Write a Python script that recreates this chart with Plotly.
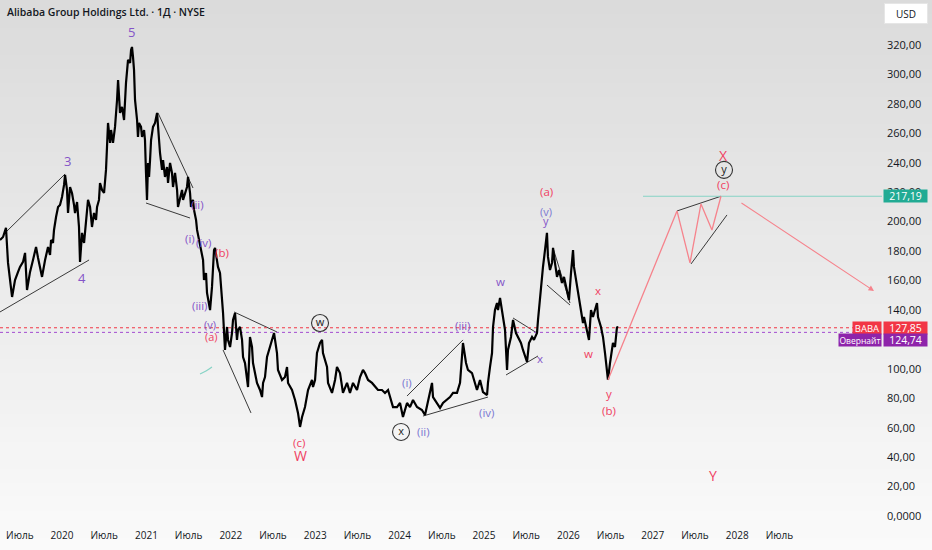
import plotly.graph_objects as go

# BABA daily chart with Elliott wave markup
# time in decimal years, price in USD

t = [
    2019.265, 2019.301, 2019.336, 2019.360, 2019.408, 2019.443, 2019.479, 2019.502, 2019.538, 2019.562,
    2019.585, 2019.621, 2019.656, 2019.692, 2019.716, 2019.739, 2019.763, 2019.799, 2019.834, 2019.858,
    2019.870, 2019.893, 2019.905, 2019.929, 2019.953, 2019.976,
    2020.000, 2020.024, 2020.036, 2020.059, 2020.071, 2020.095, 2020.118, 2020.142, 2020.154, 2020.178,
    2020.201, 2020.213, 2020.225, 2020.237, 2020.261, 2020.284, 2020.308, 2020.332, 2020.355, 2020.379,
    2020.403, 2020.415, 2020.438, 2020.450, 2020.474, 2020.498, 2020.521, 2020.533, 2020.545, 2020.569,
    2020.581, 2020.604, 2020.628, 2020.652, 2020.664, 2020.687, 2020.711, 2020.735, 2020.758, 2020.782,
    2020.806, 2020.818, 2020.829, 2020.841, 2020.853, 2020.865, 2020.889, 2020.900, 2020.912, 2020.936,
    2020.948, 2020.972, 2020.983, 2020.995,
    2021.007, 2021.019, 2021.031, 2021.043, 2021.055, 2021.078, 2021.102, 2021.126, 2021.137, 2021.161,
    2021.185, 2021.197, 2021.220, 2021.244, 2021.256, 2021.280, 2021.303, 2021.315, 2021.339, 2021.363,
    2021.374, 2021.398, 2021.422, 2021.434, 2021.457, 2021.481, 2021.493, 2021.517, 2021.528, 2021.552,
    2021.564, 2021.588, 2021.600, 2021.623, 2021.647, 2021.671, 2021.682, 2021.706, 2021.718, 2021.742,
    2021.754, 2021.777, 2021.789, 2021.801, 2021.813, 2021.836, 2021.848, 2021.872, 2021.896, 2021.908,
    2021.931, 2021.955, 2021.967, 2021.991,
    2022.014, 2022.026, 2022.050, 2022.073, 2022.085, 2022.109, 2022.133, 2022.145, 2022.168, 2022.192,
    2022.204, 2022.227, 2022.251, 2022.263, 2022.310, 2022.346, 2022.370, 2022.382, 2022.405, 2022.429,
    2022.464, 2022.488, 2022.512, 2022.524, 2022.547, 2022.559, 2022.607, 2022.642, 2022.666, 2022.678,
    2022.725, 2022.761, 2022.796, 2022.820, 2022.844, 2022.879, 2022.915, 2022.962, 2022.974, 2022.998,
    2023.021, 2023.057, 2023.081, 2023.092, 2023.140, 2023.152, 2023.199, 2023.235, 2023.258, 2023.294,
    2023.329, 2023.377, 2023.412, 2023.448, 2023.495, 2023.531, 2023.566, 2023.590, 2023.626, 2023.673,
    2023.709, 2023.744, 2023.791, 2023.827, 2023.863, 2023.886, 2023.922, 2023.969,
    2024.005, 2024.040, 2024.088, 2024.123, 2024.159, 2024.206, 2024.265, 2024.301, 2024.336, 2024.384,
    2024.396, 2024.443, 2024.479, 2024.514, 2024.562, 2024.597, 2024.633, 2024.680, 2024.716, 2024.739,
    2024.751, 2024.787, 2024.810, 2024.858, 2024.893, 2024.917, 2024.953, 2024.988,
    2025.036, 2025.047, 2025.071, 2025.095, 2025.107, 2025.130, 2025.154, 2025.166, 2025.190, 2025.213,
    2025.225, 2025.249, 2025.273, 2025.284, 2025.320, 2025.344, 2025.379, 2025.403, 2025.438, 2025.462,
    2025.498, 2025.510, 2025.533, 2025.569, 2025.592, 2025.628, 2025.640, 2025.664, 2025.687, 2025.699,
    2025.723, 2025.746, 2025.758, 2025.782, 2025.806, 2025.818, 2025.841, 2025.865, 2025.889, 2025.924,
    2025.948, 2025.983,
    2026.007, 2026.031, 2026.055, 2026.066, 2026.102, 2026.114, 2026.149, 2026.173, 2026.185, 2026.220,
    2026.244, 2026.268, 2026.291, 2026.339, 2026.351, 2026.386, 2026.410, 2026.434, 2026.457, 2026.469,
    2026.493, 2026.517, 2026.528, 2026.552, 2026.576, 2026.588,
]

price = [
    187.5, 189.5, 195.7, 171.9, 148.8, 160.3, 165.8, 169.2, 172.6, 178.7,
    153.5, 165.8, 173.9, 182.7, 175.3, 169.2, 162.4, 173.9, 182.7, 177.3,
    187.5, 185.5, 194.3, 203.1, 209.9, 211.3,
    216.7, 224.9, 231.7, 221.5, 205.8, 223.5, 219.4, 211.3, 205.8, 213.3,
    196.3, 172.6, 184.1, 192.3, 185.5, 203.1, 214.7, 209.9, 196.3, 205.8,
    201.1, 209.9, 214.7, 226.2, 221.5, 219.4, 235.1, 250.7, 267.0, 253.4,
    262.2, 253.4, 264.3, 282.6, 296.2, 273.8, 277.9, 269.0, 294.2, 309.8,
    307.7, 316.6, 318.6, 311.8, 303.0, 282.6, 269.0, 257.5, 267.0, 264.3,
    257.5, 262.2, 255.4, 233.0,
    214.7, 239.8, 230.3, 241.8, 255.4, 264.3, 267.0, 273.8, 264.3, 246.6,
    235.1, 241.8, 230.3, 237.1, 226.2, 239.8, 233.0, 223.5, 233.0, 221.5,
    209.9, 216.7, 221.5, 214.7, 219.4, 223.5, 230.3, 219.4, 209.9, 214.7,
    207.9, 201.1, 194.3, 187.5, 178.7, 173.9, 160.3, 165.1, 151.5, 144.7,
    139.9, 155.6, 169.2, 180.7, 182.1, 173.9, 169.2, 165.1, 148.1, 137.9,
    112.8, 128.4, 119.6, 114.8,
    124.3, 133.2, 137.9, 119.6, 126.4, 128.4, 119.6, 108.0, 103.9, 90.4,
    87.6, 121.6, 114.8, 103.9, 90.4, 85.6, 80.8, 90.4, 94.4, 108.0,
    114.8, 119.6, 124.3, 119.6, 110.7, 99.2, 92.4, 94.4, 101.2, 90.4,
    85.6, 78.8, 70.0, 60.5, 67.3, 74.0, 85.6, 92.4, 87.6, 92.4,
    110.7, 117.5, 119.6, 110.7, 101.2, 90.4, 83.6, 92.4, 101.2, 97.1,
    83.6, 90.4, 83.6, 90.4, 85.6, 94.4, 99.2, 97.1, 92.4, 90.4,
    87.6, 85.6, 85.6, 83.6, 85.6, 80.8, 74.0, 74.0,
    76.8, 67.3, 76.8, 74.0, 78.8, 74.0, 72.0, 68.6, 78.8, 90.4,
    80.8, 76.8, 73.4, 76.8, 78.8, 80.8, 83.6, 83.6, 90.4, 108.0,
    117.5, 103.9, 99.2, 97.1, 90.4, 85.6, 92.4, 84.2,
    82.2, 90.4, 101.2, 110.7, 128.4, 139.9, 144.7, 139.9, 148.1, 139.9,
    137.9, 126.4, 99.2, 112.8, 121.6, 133.2, 124.3, 121.6, 117.5, 112.8,
    106.0, 104.6, 117.5, 121.6, 119.6, 124.3, 133.2, 148.8, 158.3, 169.2,
    180.7, 192.3, 176.0, 167.1, 171.9, 182.1, 171.9, 162.4, 167.1, 158.3,
    162.4, 151.5,
    146.7, 165.1, 180.7, 169.2, 155.6, 151.5, 139.9, 131.1, 135.2, 126.4,
    119.6, 139.9, 135.2, 144.7, 135.2, 128.4, 121.6, 110.7, 99.2, 92.4,
    103.9, 112.8, 117.5, 114.8, 128.4, 127.85,
]

last_price = 127.85
overnight_price = 124.74
target_price = 217.19

# trend lines drawn on the chart: (t0, p0, t1, p1)
trend_lines = [
    (2019.336, 192.9, 2020.036, 232.3),
    (2019.265, 138.6, 2020.320, 173.9),
    (2021.137, 273.8, 2021.552, 222.8),
    (2020.995, 212.6, 2021.517, 202.4),
    (2022.038, 138.6, 2022.547, 125.0),
    (2021.908, 112.8, 2022.239, 70.0),
    (2024.088, 81.5, 2024.751, 119.6),
    (2024.277, 67.9, 2025.047, 80.8),
    (2025.344, 134.5, 2025.628, 124.3),
    (2025.261, 95.8, 2025.640, 108.7),
    (2025.818, 182.1, 2026.019, 144.7),
    (2025.746, 156.9, 2026.019, 143.3),
    (2027.287, 207.2, 2027.808, 217.2),
    (2027.453, 171.2, 2027.879, 204.5),
]

# projected path
proj_t = [2026.469, 2027.287, 2027.441, 2027.571, 2027.701, 2027.808]
proj_p = [92.4, 207.2, 171.9, 212.0, 194.3, 217.2]
arrow_start = (2028.033, 213.3)
arrow_end = (2029.621, 152.9)
target_start = 2026.884

arc_t = [2021.635, 2021.706, 2021.777]
arc_p = [96.5, 98.5, 101.2]

PURPLE = '#8454c8'
LAVENDER = '#7b78d2'
PINK = '#f03e62'

label_t = [2020.818, 2020.059, 2020.237, 2021.611, 2021.517, 2021.682, 2021.896, 2021.635, 2021.754,
           2021.766, 2022.808, 2022.820, 2024.088, 2024.289, 2024.751, 2025.024, 2025.190, 2025.664,
           2025.735, 2025.735, 2025.735, 2026.351, 2026.244, 2026.481, 2026.481, 2027.832, 2027.832,
           2027.713]
label_p = [328.8, 241.2, 161.7, 211.3, 188.2, 186.1, 178.7, 143.3, 130.0,
           121.6, 49.6, 40.8, 91.0, 57.1, 129.1, 70.0, 159.0, 106.7,
           220.1, 206.5, 200.4, 153.5, 110.7, 82.9, 72.0, 245.2, 224.9,
           27.2]
label_txt = ['5', '3', '4', '(ii)', '(i)', '(iv)', '(b)', '(iii)', '(v)',
             '(a)', '(c)', 'W', '(i)', '(ii)', '(iii)', '(iv)', 'w', 'x',
             '(a)', '(v)', 'y', 'x', 'w', 'y', '(b)', 'X', '(c)',
             'Y']
label_col = [PURPLE, PURPLE, PURPLE, PURPLE, PURPLE, PURPLE, PINK, PURPLE, PURPLE,
             PINK, PINK, PINK, LAVENDER, LAVENDER, PURPLE, LAVENDER, PURPLE, PURPLE,
             PINK, LAVENDER, PURPLE, PINK, PINK, PINK, PINK, PINK, PINK,
             PINK]
label_size = [13, 13, 13, 11.5, 11.5, 11.5, 11.5, 11.5, 11,
              11, 11.5, 14, 11.5, 11.5, 11.5, 11.5, 11.5, 11.5,
              11.5, 11, 11, 11.5, 11.5, 11.5, 11.5, 14, 11.5,
              14]

circle_t = [2023.057, 2024.017, 2027.844]
circle_p = [131.1, 57.1, 235.1]
circle_txt = ['w', 'x', 'y']

tick_vals = [0, 20, 40, 60, 80, 100, 140, 160, 180, 200, 220, 240, 260, 280, 300, 320]
tick_text = ['0,0000', '20,00', '40,00', '60,00', '80,00', '100,00', '140,00', '160,00', '180,00',
             '200,00', '220,00', '240,00', '260,00', '280,00', '300,00', '320,00']
x_tick_vals = [2019.5, 2020, 2020.5, 2021, 2021.5, 2022, 2022.5, 2023, 2023.5, 2024, 2024.5,
               2025, 2025.5, 2026, 2026.5, 2027, 2027.5, 2028, 2028.5]
x_tick_text = ['Июль', '2020', 'Июль', '2021', 'Июль', '2022', 'Июль', '2023', 'Июль', '2024', 'Июль',
               '2025', 'Июль', '2026', 'Июль', '2027', 'Июль', '2028', 'Июль']

FONT = 'Open Sans'
x_range = [2019.265, 2029.716]
y_range = [-8.15, 350.5]

fig = go.Figure()

# gradient background, darker at the top
n_bands = 40
for i in range(n_bands):
    c = int(251 - (251 - 219) * (i + 0.5) / n_bands)
    y0 = -0.045 + (1.0 + 0.045) * i / n_bands
    y1 = -0.045 + (1.0 + 0.045) * (i + 1) / n_bands + 0.002
    fig.add_shape(type='rect', xref='paper', yref='paper', x0=-0.01, x1=1.07, y0=y0, y1=y1,
                  fillcolor=f'rgb({c},{c},{c})', line_width=0, layer='below')

for t0, p0, t1, p1 in trend_lines:
    fig.add_trace(go.Scatter(x=[t0, t1], y=[p0, p1], mode='lines',
                             line=dict(color='#3a3a3a', width=1), hoverinfo='skip'))

# price / overnight dotted lines
fig.add_trace(go.Scatter(x=x_range, y=[last_price, last_price], mode='lines',
                         line=dict(color='#f23645', width=1, dash='dot'), hoverinfo='skip'))
fig.add_trace(go.Scatter(x=x_range, y=[overnight_price, overnight_price], mode='lines',
                         line=dict(color='#a34bd0', width=1, dash='dot'), hoverinfo='skip'))
fig.add_trace(go.Scatter(x=[target_start, x_range[1]], y=[target_price, target_price], mode='lines',
                         line=dict(color='#86d3c5', width=1), hoverinfo='skip'))

fig.add_trace(go.Scatter(x=arc_t, y=arc_p, mode='lines', line=dict(color='#86d3c5', width=1.2, shape='spline'),
                         hoverinfo='skip'))

fig.add_trace(go.Scatter(x=t, y=price, mode='lines', line=dict(color='#000000', width=2.2),
                         name='BABA'))

fig.add_trace(go.Scatter(x=proj_t, y=proj_p, mode='lines', line=dict(color='#f6838c', width=1.3),
                         hoverinfo='skip'))
fig.add_annotation(x=arrow_end[0], y=arrow_end[1], ax=arrow_start[0], ay=arrow_start[1],
                   xref='x', yref='y', axref='x', ayref='y', showarrow=True, text='',
                   arrowhead=2, arrowsize=1, arrowwidth=1.1, arrowcolor='#f6838c')

for lt, lp, tx, col, sz in zip(label_t, label_p, label_txt, label_col, label_size):
    fig.add_annotation(x=lt, y=lp, text=tx, showarrow=False,
                       font=dict(family=FONT, size=sz, color=col))

fig.add_trace(go.Scatter(x=circle_t, y=circle_p, mode='markers+text', text=circle_txt,
                         textposition='middle center',
                         textfont=dict(family=FONT, size=11, color='#222'),
                         marker=dict(symbol='circle-open', size=17, color='#333',
                                     line=dict(width=1.1)),
                         hoverinfo='skip'))


# right-hand price labels
def price_tag(y, text, bg, right_side, width, xshift, yshift=0, size=10.5):
    fig.add_annotation(x=1, y=y, xref='paper', yref='y', text=text, showarrow=False,
                       xanchor='left' if right_side else 'right', xshift=xshift, yshift=yshift,
                       bgcolor=bg, width=width, height=12, borderpad=0,
                       font=dict(family=FONT, size=size, color='white'))


price_tag(target_price, '217,19', '#22ab94', True, 43, 1)
price_tag(last_price, '127,85', '#f23645', True, 43, 1)
price_tag(last_price, 'BABA', '#f23645', False, 28, 0, 0, 9.5)
price_tag(overnight_price, '124,74', '#8e24aa', True, 43, 1, -8)
price_tag(overnight_price, 'Овернайт', '#8e24aa', False, 42, 0, -8, 8.5)

fig.add_annotation(x=1, y=1, xref='paper', yref='paper', text='USD', showarrow=False,
                   xanchor='left', yanchor='top', xshift=2, yshift=-3, width=40, height=17,
                   bgcolor='white', bordercolor='#e6e6e6', borderwidth=1,
                   font=dict(family=FONT, size=10, color='#131722'))

fig.add_annotation(x=0, y=1, xref='paper', yref='paper',
                   text='Alibaba Group Holdings Ltd. · 1Д · NYSE', showarrow=False,
                   xanchor='left', yanchor='top', xshift=5, yshift=-3,
                   font=dict(family=FONT, size=10.5, color='#131722', weight=600))

fig.update_layout(
    width=932, height=550,
    margin=dict(l=0, r=50, t=0, b=22),
    paper_bgcolor='rgb(251,251,251)',
    plot_bgcolor='rgba(0,0,0,0)',
    showlegend=False,
    separators=', ',
    xaxis=dict(range=x_range, showgrid=False, zeroline=False, showline=False,
               tickvals=x_tick_vals, ticktext=x_tick_text, ticks='',
               tickfont=dict(family=FONT, size=10, color='#131722')),
    yaxis=dict(range=y_range, side='right', showgrid=False, zeroline=False, showline=False,
               tickvals=tick_vals, ticktext=tick_text, ticks='', ticklabelstandoff=4,
               tickfont=dict(family=FONT, size=11, color='#131722')),
)

# the page's default body margin would shift the chart by 8px
fig.write_html("out.html", config={'displayModeBar': False},
               post_script="document.body.style.margin='0';")
